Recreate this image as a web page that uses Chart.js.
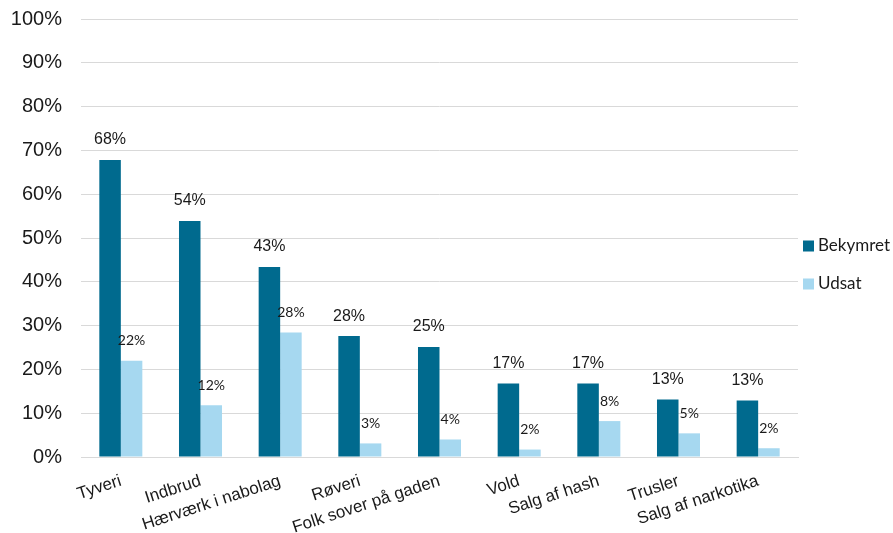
<!DOCTYPE html>
<html>
<head>
<meta charset="utf-8">
<script src="https://cdn.jsdelivr.net/npm/chart.js@4.4.1/dist/chart.umd.min.js"></script>
<style>
  html, body { margin: 0; padding: 0; background: #fff; }
  #wrap { width: 893px; height: 533px; }
</style>
</head>
<body>
<div id="wrap"><canvas id="grafico"></canvas></div>
<script>
// Data
const kategorier = ['Tyveri', 'Indbrud', 'Hærværk i nabolag', 'Røveri', 'Folk sover på gaden',
                    'Vold', 'Salg af hash', 'Trusler', 'Salg af narkotika'];
const bekymret = [67.8, 53.9, 43.4, 27.6, 25.1, 16.8, 16.8, 13.1, 12.9];
const udsat = [22.0, 11.8, 28.4, 3.1, 4.0, 1.7, 8.2, 5.4, 2.0];
const bekymretEtiketter = ['68%', '54%', '43%', '28%', '25%', '17%', '17%', '13%', '13%'];
const udsatEtiketter = ['22%', '12%', '28%', '3%', '4%', '2%', '8%', '5%', '2%'];

const morkBla = '#006a8e';
const lysBla = '#a6d8f0';

// Labels above the bars
const etiketPlugin = {
    id: 'etiketter',
    afterDatasetsDraw(chart) {
        const ctx = chart.ctx;
        ctx.save();
        ctx.textAlign = 'center';
        ctx.textBaseline = 'middle';
        ctx.fillStyle = '#1a1a1a';
        chart.data.datasets.forEach((ds, i) => {
            const meta = chart.getDatasetMeta(i);
            ctx.font = ds.etiketFont;
            meta.data.forEach((bar, j) => {
                ctx.fillText(ds.etiketter[j], bar.x, bar.y - 20);
            });
        });
        ctx.restore();
    }
};

// Legend to the right of the plot
const legendePlugin = {
    id: 'legende',
    afterDraw(chart) {
        const ctx = chart.ctx;
        const x = chart.chartArea.right + 5;
        const yStart = 246;
        ctx.save();
        ctx.font = '17px Lato';
        ctx.textBaseline = 'middle';
        ctx.textAlign = 'left';
        chart.data.datasets.forEach((ds, i) => {
            const y = yStart + i * 38;
            ctx.fillStyle = ds.backgroundColor;
            ctx.fillRect(x, y - 5.5, 11, 11);
            ctx.fillStyle = '#1a1a1a';
            ctx.fillText(ds.label, x + 15, y);
        });
        ctx.restore();
    }
};

new Chart(document.getElementById('grafico'), {
    type: 'bar',
    data: {
        labels: kategorier,
        datasets: [
            {
                label: 'Bekymret',
                data: bekymret,
                backgroundColor: morkBla,
                etiketter: bekymretEtiketter,
                etiketFont: '16px "Liberation Sans", Arial, sans-serif',
                categoryPercentage: 0.54,
                barPercentage: 1.0
            },
            {
                label: 'Udsat',
                data: udsat,
                backgroundColor: lysBla,
                etiketter: udsatEtiketter,
                etiketFont: '14px Lato, sans-serif',
                categoryPercentage: 0.54,
                barPercentage: 1.0
            }
        ]
    },
    options: {
        responsive: true,
        maintainAspectRatio: false,
        animation: false,
        layout: {
            padding: { left: 0, right: 95, top: 19, bottom: 0 }
        },
        plugins: {
            legend: { display: false },
            tooltip: { enabled: false }
        },
        scales: {
            x: {
                grid: { display: false, drawTicks: false },
                border: { color: '#d9d9d9', width: 1 },
                ticks: {
                    color: '#1a1a1a',
                    font: { family: '"Liberation Sans", Arial, sans-serif', size: 17 },
                    minRotation: 18,
                    maxRotation: 18,
                    autoSkip: false,
                    padding: 14
                },
                afterFit(scale) { scale.height = 76; }
            },
            y: {
                min: 0,
                max: 100,
                // invisible tick marks give the gap, tick padding would push the top down
                grid: { color: '#d9d9d9', lineWidth: 1, drawTicks: true, tickLength: 19, tickColor: 'rgba(0,0,0,0)' },
                border: { display: false },
                ticks: {
                    stepSize: 10,
                    color: '#1a1a1a',
                    padding: 0,
                    font: { family: '"Liberation Sans", Arial, sans-serif', size: 20 },
                    callback: v => v + '%'
                },
                afterFit(scale) { scale.width = 81; }
            }
        }
    },
    plugins: [etiketPlugin, legendePlugin]
});
</script>
</body>
</html>
